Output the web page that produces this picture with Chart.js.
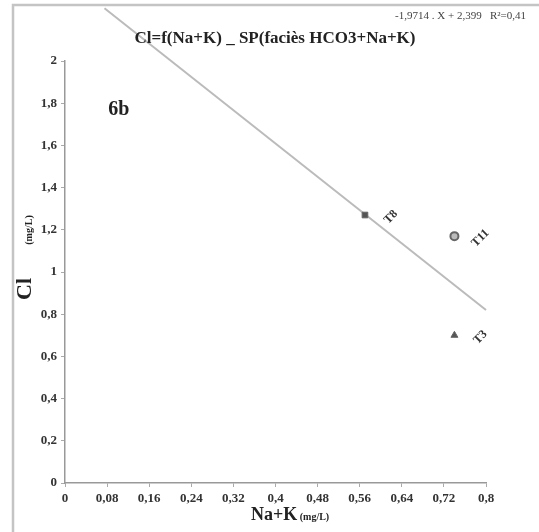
<!DOCTYPE html>
<html>
<head>
<meta charset="utf-8">
<script src="https://cdn.jsdelivr.net/npm/chart.js@4.4.1/dist/chart.umd.min.js"></script>
<style>
  body { margin: 0; background: #fff; }
  canvas { display: block; }
</style>
</head>
<body>
<canvas id="graf" width="539" height="532"></canvas>
<script>
const echantillons = ['T8', 'T11', 'T3'];
const naK = [0.57, 0.74, 0.74];
const cl = [1.27, 1.17, 0.70];
const styles = ['rect', 'circle', 'triangle'];

// droite de régression  y = -1.9714 x + 2.399
const droiteX = [0.075, 0.8];
const droiteY = [2.25, 0.82];

const xTicks = [0, 0.08, 0.16, 0.24, 0.32, 0.4, 0.48, 0.56, 0.64, 0.72, 0.8];
const yTicks = [0, 0.2, 0.4, 0.6, 0.8, 1, 1.2, 1.4, 1.6, 1.8, 2];

const SERIF = '"Liberation Serif", "DejaVu Serif", serif';
const virgule = v => String(+v.toFixed(2)).replace('.', ',');

// textes et cadre dessinés à la main
const decor = {
  id: 'decor',
  beforeDraw(chart) {
    const c = chart.ctx;
    c.save();
    c.strokeStyle = '#c4c4c4';
    c.lineWidth = 2.5;
    c.strokeRect(13, 5, 700, 700);
    c.restore();
  },
  afterDraw(chart) {
    const c = chart.ctx;
    const xs = chart.scales.x, ys = chart.scales.y;
    c.save();
    c.fillStyle = '#222';
    c.textAlign = 'center';
    c.textBaseline = 'middle';

    c.font = 'bold 17px ' + SERIF;
    c.fillText('Cl=f(Na+K) _ SP(faciès HCO3+Na+K)', 275, 39);

    c.font = '11px ' + SERIF;
    c.fillStyle = '#444';
    c.textAlign = 'right';
    c.fillText('-1,9714 . X + 2,399   R²=0,41', 526, 16);

    c.fillStyle = '#222';
    c.textAlign = 'left';
    c.font = 'bold 20px ' + SERIF;
    c.fillText('6b', xs.getPixelForValue(0.082), ys.getPixelForValue(1.77));

    // titre de l'axe X
    const x0 = 251;
    c.font = 'bold 18px ' + SERIF;
    const t1 = 'Na+K';
    const w1 = c.measureText(t1).width;
    c.fillText(t1, x0, 515);
    c.font = 'bold 10px ' + SERIF;
    c.fillText(' (mg/L)', x0 + w1, 517);

    // titre de l'axe Y
    c.save();
    c.translate(25, 289);
    c.rotate(-Math.PI / 2);
    c.textAlign = 'center';
    c.font = 'bold 22px ' + SERIF;
    c.fillText('Cl', 0, 0);
    c.restore();
    c.save();
    c.translate(29, 230);
    c.rotate(-Math.PI / 2);
    c.textAlign = 'center';
    c.font = 'bold 10px ' + SERIF;
    c.fillText('(mg/L)', 0, 0);
    c.restore();

    // étiquettes des points, inclinées
    const meta = chart.getDatasetMeta(0);
    c.font = 'bold 12px ' + SERIF;
    c.fillStyle = '#333';
    meta.data.forEach((pt, i) => {
      c.save();
      c.translate(pt.x + 26, pt.y + 2);
      c.rotate(-Math.PI / 4);
      c.textAlign = 'center';
      c.fillText(echantillons[i], 0, 0);
      c.restore();
    });
    c.restore();
  }
};

new Chart(document.getElementById('graf'), {
  type: 'scatter',
  data: {
    datasets: [{
      label: 'Points',
      data: naK.map((v, i) => ({ x: v, y: cl[i] })),
      pointStyle: styles,
      pointRadius: [4, 4, 4],
      backgroundColor: ['#555', '#bbb', '#555'],
      borderColor: '#666',
      borderWidth: [1, 2, 1]
    }, {
      label: 'Droite',
      data: droiteX.map((v, i) => ({ x: v, y: droiteY[i] })),
      showLine: true,
      pointRadius: 0,
      borderColor: '#bbb',
      borderWidth: 2,
      clip: false
    }]
  },
  plugins: [decor],
  options: {
    responsive: false,
    animation: false,
    layout: { padding: { top: 61, right: 53, left: 0, bottom: 0 } },
    plugins: {
      legend: { display: false },
      tooltip: { enabled: false }
    },
    scales: {
      x: {
        type: 'linear',
        min: 0,
        max: 0.8,
        afterFit: s => { s.height = 49; },
        afterBuildTicks: s => { s.ticks = xTicks.map(v => ({ value: v })); },
        border: { color: '#999', width: 1.5 },
        grid: { drawOnChartArea: false, drawTicks: true, tickLength: 4, color: '#aaa' },
        ticks: {
          color: '#333',
          padding: 4,
          maxRotation: 0,
          font: { family: SERIF, size: 13, weight: 'bold' },
          callback: v => virgule(v)
        }
      },
      y: {
        type: 'linear',
        min: 0,
        max: 2,
        afterFit: s => { s.width = 65; },
        afterBuildTicks: s => { s.ticks = yTicks.map(v => ({ value: v })); },
        border: { color: '#999', width: 1.5 },
        grid: { drawOnChartArea: false, drawTicks: true, tickLength: 4, color: '#aaa' },
        ticks: {
          color: '#333',
          padding: 4,
          font: { family: SERIF, size: 13, weight: 'bold' },
          callback: v => virgule(v)
        }
      }
    }
  }
});
</script>
</body>
</html>
